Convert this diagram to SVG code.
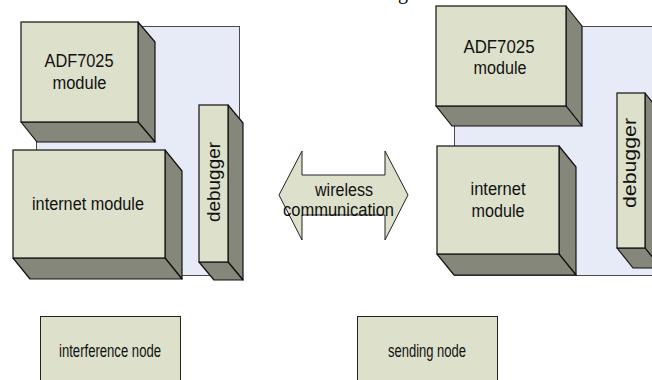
<svg xmlns="http://www.w3.org/2000/svg" width="652" height="380" viewBox="0 0 652 380">
  <style>
    .panel { fill: #E6EBF7; stroke: #4a4a4a; stroke-width: 1; }
    .front { fill: #DDE0CB; stroke: #111; stroke-width: 1.2; }
    .side { fill: #85877A; stroke: #111; stroke-width: 1.2; stroke-linejoin: round; }
    .flat { fill: #DDE0CB; stroke: #222; stroke-width: 1; }
    .lbl { font-family: "Liberation Sans", Arial, sans-serif; font-size: 17.5px; fill: #111; text-anchor: middle; }
    .title { font-family: "Liberation Serif", "Times New Roman", serif; font-size: 20px; fill: #000; }
  </style>

  <!-- heading descender clipped at the top edge -->
  <text class="title" x="398" y="-1.5">g</text>

  <!-- left node -->
  <g id="left-panel">
    <rect class="panel" x="36.5" y="26.5" width="203" height="249"/>
  </g>
  <g id="left-adf7025">
    <polygon class="side" points="138,22 155,42 155,142 138,122"/>
    <polygon class="side" points="21,122 37,142 155,142 138,122"/>
    <rect class="front" x="21" y="22" width="117" height="100"/>
    <text class="lbl" x="79" y="67" textLength="69" lengthAdjust="spacingAndGlyphs">ADF7025</text>
    <text class="lbl" x="79.5" y="88.5" textLength="54" lengthAdjust="spacingAndGlyphs">module</text>
  </g>
  <g id="left-internet">
    <polygon class="side" points="165,150 182,171 182,279 165,258"/>
    <polygon class="side" points="13,258 30,279 182,279 165,258"/>
    <rect class="front" x="13" y="150" width="152" height="108"/>
    <text class="lbl" x="88" y="210" textLength="112" lengthAdjust="spacingAndGlyphs">internet module</text>
  </g>
  <g id="left-debugger">
    <polygon class="side" points="228,105 243,123 243,280 228,262"/>
    <polygon class="side" points="199,262 214,280 243,280 228,262"/>
    <rect class="front" x="199" y="105" width="29" height="157"/>
    <text class="lbl" transform="translate(219.5,182) rotate(-90)" x="0" y="0" textLength="80" lengthAdjust="spacingAndGlyphs">debugger</text>
  </g>

  <!-- link between the two nodes -->
  <g id="connectors">
    <polygon class="flat" points="279,195 302,151 302,175 385,175 385,151 408,195 385,240 385,215 302,215 302,240"/>
    <text class="lbl" x="344" y="196" textLength="58" lengthAdjust="spacingAndGlyphs">wireless</text>
    <text class="lbl" x="338.5" y="216" textLength="111" lengthAdjust="spacingAndGlyphs">communication</text>
  </g>

  <!-- right node -->
  <g id="right-panel">
    <rect class="panel" x="454.5" y="26.5" width="210" height="249"/>
  </g>
  <g id="right-adf7025">
    <polygon class="side" points="566,6 582,26 582,126 566,106"/>
    <polygon class="side" points="436,106 452,126 582,126 566,106"/>
    <rect class="front" x="436" y="6" width="130" height="100"/>
    <text class="lbl" x="499" y="53" textLength="71" lengthAdjust="spacingAndGlyphs">ADF7025</text>
    <text class="lbl" x="500" y="73.5" textLength="53" lengthAdjust="spacingAndGlyphs">module</text>
  </g>
  <g id="right-internet">
    <polygon class="side" points="559,146 576,167 576,275 559,254"/>
    <polygon class="side" points="437,254 454,275 576,275 559,254"/>
    <rect class="front" x="437" y="146" width="122" height="108"/>
    <text class="lbl" x="498" y="195" textLength="55" lengthAdjust="spacingAndGlyphs">internet</text>
    <text class="lbl" x="498" y="217" textLength="53" lengthAdjust="spacingAndGlyphs">module</text>
  </g>
  <g id="right-debugger">
    <polygon class="side" points="645,93 661,113 661,268 645,248"/>
    <polygon class="side" points="617,248 633,268 661,268 645,248"/>
    <rect class="front" x="617" y="93" width="28" height="155"/>
    <text class="lbl" transform="translate(636,163) rotate(-90)" x="0" y="0" textLength="90" lengthAdjust="spacingAndGlyphs">debugger</text>
  </g>

  <!-- node captions -->
  <g id="interference-node">
    <rect class="flat" x="40.5" y="316.5" width="140" height="80"/>
    <text class="lbl" x="110" y="356.5" textLength="102" lengthAdjust="spacingAndGlyphs">interference node</text>
  </g>
  <g id="sending-node">
    <rect class="flat" x="357.5" y="316.5" width="140" height="80"/>
    <text class="lbl" x="427" y="356.5" textLength="78" lengthAdjust="spacingAndGlyphs">sending node</text>
  </g>
</svg>
